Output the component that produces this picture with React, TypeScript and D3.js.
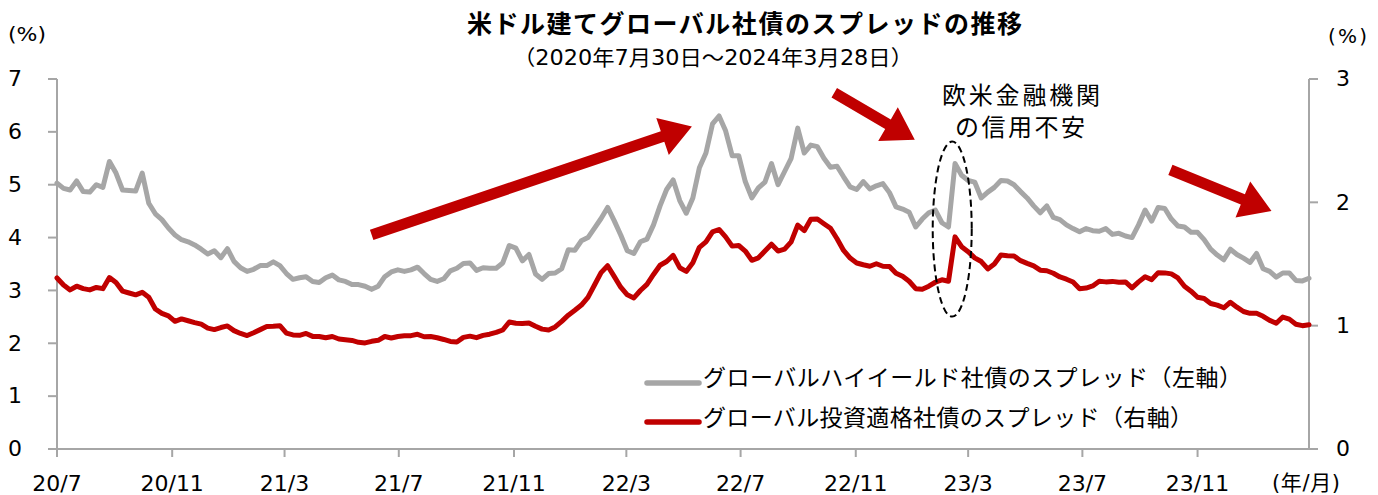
import React from 'react';
import * as d3 from 'd3';

// ---- data (weekly, Thursdays from 2020-07-30 to 2024-03-28) ----
const START = new Date(2020, 6, 30);
const END = new Date(2024, 2, 28);

const hySpread = [
  5.03, 4.93, 4.90, 5.07, 4.87, 4.86, 5.00, 4.95, 5.44, 5.22,
  4.90, 4.89, 4.88, 5.22, 4.65, 4.45, 4.34, 4.18, 4.05, 3.96,
  3.92, 3.86, 3.78, 3.69, 3.75, 3.62, 3.79, 3.55, 3.43, 3.36,
  3.40, 3.47, 3.47, 3.54, 3.47, 3.32, 3.21, 3.24, 3.26, 3.17,
  3.15, 3.24, 3.29, 3.20, 3.17, 3.11, 3.11, 3.08, 3.02, 3.08,
  3.26, 3.35, 3.39, 3.36, 3.39, 3.44, 3.32, 3.21, 3.17, 3.22,
  3.37, 3.42, 3.51, 3.52, 3.38, 3.43, 3.42, 3.42, 3.52, 3.85,
  3.80, 3.56, 3.68, 3.31, 3.21, 3.32, 3.33, 3.41, 3.77, 3.76,
  3.94, 4.00, 4.18, 4.36, 4.57, 4.32, 4.05, 3.75, 3.70, 3.92,
  3.97, 4.24, 4.60, 4.91, 5.09, 4.70, 4.46, 4.75, 5.32, 5.60,
  6.15, 6.30, 6.02, 5.55, 5.55, 5.06, 4.75, 4.94, 5.05, 5.40,
  5.00, 5.25, 5.50, 6.07, 5.60, 5.75, 5.72, 5.50, 5.33, 5.35,
  5.15, 4.96, 4.91, 5.06, 4.92, 4.98, 5.02, 4.85, 4.58, 4.54,
  4.48, 4.20, 4.35, 4.47, 4.52, 4.28, 4.20, 5.40, 5.18, 5.08,
  5.05, 4.75, 4.86, 4.95, 5.08, 5.07, 5.00, 4.87, 4.75, 4.60,
  4.47, 4.60, 4.38, 4.34, 4.24, 4.17, 4.11, 4.17, 4.13, 4.12,
  4.17, 4.06, 4.08, 4.03, 4.00, 4.24, 4.52, 4.31, 4.57, 4.55,
  4.35, 4.22, 4.20, 4.10, 4.10, 3.96, 3.78, 3.67, 3.58, 3.78,
  3.68, 3.61, 3.53, 3.70, 3.41, 3.36, 3.25, 3.33, 3.33, 3.19,
  3.18, 3.23,
];

const igSpread = [
  1.387, 1.33, 1.29, 1.32, 1.30, 1.29, 1.31, 1.30, 1.39, 1.35,
  1.28, 1.265, 1.25, 1.27, 1.23, 1.135, 1.10, 1.08, 1.035, 1.055,
  1.04, 1.025, 1.012, 0.98, 0.968, 0.985, 0.998, 0.96, 0.937, 0.92,
  0.943, 0.968, 0.994, 0.995, 1.0, 0.94, 0.925, 0.922, 0.937, 0.913,
  0.912, 0.902, 0.912, 0.892, 0.886, 0.88, 0.865, 0.86, 0.873, 0.881,
  0.912, 0.90, 0.912, 0.918, 0.919, 0.93, 0.91, 0.912, 0.902, 0.888,
  0.872, 0.868, 0.905, 0.915, 0.903, 0.921, 0.931, 0.945, 0.965, 1.03,
  1.02, 1.018, 1.022, 0.995, 0.972, 0.965, 0.99, 1.035, 1.085, 1.125,
  1.167, 1.23, 1.33, 1.43, 1.486, 1.40, 1.312, 1.25, 1.225, 1.285,
  1.335, 1.415, 1.49, 1.52, 1.57, 1.47, 1.44, 1.51, 1.635, 1.68,
  1.76, 1.78, 1.72, 1.645, 1.65, 1.605, 1.53, 1.55, 1.605, 1.66,
  1.605, 1.62, 1.68, 1.815, 1.77, 1.862, 1.865, 1.827, 1.79, 1.705,
  1.61, 1.548, 1.508, 1.494, 1.482, 1.502, 1.482, 1.48, 1.425, 1.40,
  1.36, 1.30, 1.295, 1.32, 1.352, 1.372, 1.36, 1.72, 1.64, 1.60,
  1.55, 1.52, 1.46, 1.50, 1.573, 1.567, 1.565, 1.527, 1.505, 1.485,
  1.45, 1.445, 1.425, 1.395, 1.377, 1.354, 1.30, 1.305, 1.322, 1.36,
  1.355, 1.359, 1.352, 1.355, 1.307, 1.355, 1.396, 1.373, 1.43, 1.428,
  1.42, 1.387, 1.32, 1.28, 1.23, 1.22, 1.18, 1.167, 1.145, 1.19,
  1.15, 1.115, 1.10, 1.10, 1.076, 1.043, 1.02, 1.07, 1.053, 1.012,
  1.00, 1.008,
];

const leftTicks = [0, 1, 2, 3, 4, 5, 6, 7];
const rightTicks = [0, 1, 2, 3];
const xTickLabels = ['20/7', '20/11', '21/3', '21/7', '21/11', '22/3', '22/7', '22/11', '23/3', '23/7', '23/11'];

const TITLE = '米ドル建てグローバル社債のスプレッドの推移';
const SUBTITLE = '（2020年7月30日～2024年3月28日）';
const LEGEND_HY = 'グローバルハイイールド社債のスプレッド（左軸）';
const LEGEND_IG = 'グローバル投資適格社債のスプレッド（右軸）';
const NOTE1 = '欧米金融機関';
const NOTE2 = 'の信用不安';

// annotation anchors in data space (date, left-axis value)
const arrows = [
  { from: ['2021-07-01', 4.05], to: ['2022-06-08', 6.10] },
  { from: ['2022-11-07', 6.74], to: ['2023-02-01', 5.85] },
  { from: ['2023-11-01', 5.28], to: ['2024-02-17', 4.50] },
];
const ellipseAnchor = ['2023-03-13', 4.16];

const W = 1378;
const H = 495;
const LEFT = 57;
const RIGHT = 1309;
const TOP = 79;
const BOTTOM = 449;

const GRAY = '#a6a6a6';
const RED = '#c00000';
const JP = "'Noto Sans CJK JP', 'Noto Sans', sans-serif";
const NUM = "'DejaVu Sans', 'Noto Sans CJK JP', sans-serif";

const parse = d3.timeParse('%Y-%m-%d');

function arrowPath(x0: number, y0: number, x1: number, y1: number, sw: number, hl: number, hw: number) {
  const dx = x1 - x0, dy = y1 - y0;
  const len = Math.hypot(dx, dy);
  const ux = dx / len, uy = dy / len;
  const nx = -uy, ny = ux;
  const bx = x1 - ux * hl, by = y1 - uy * hl;
  const pts = [
    [x0 + nx * sw / 2, y0 + ny * sw / 2],
    [bx + nx * sw / 2, by + ny * sw / 2],
    [bx + nx * hw / 2, by + ny * hw / 2],
    [x1, y1],
    [bx - nx * hw / 2, by - ny * hw / 2],
    [bx - nx * sw / 2, by - ny * sw / 2],
    [x0 - nx * sw / 2, y0 - ny * sw / 2],
  ];
  return 'M' + pts.map(p => p[0].toFixed(1) + ',' + p[1].toFixed(1)).join('L') + 'Z';
}

export default function App() {
  const dates = d3.range(hySpread.length).map(i => d3.timeDay.offset(START, 7 * i));
  const x = d3.scaleTime().domain([START, END]).range([LEFT, RIGHT]);
  const yL = d3.scaleLinear().domain([0, 7]).range([BOTTOM, TOP]);
  const yR = d3.scaleLinear().domain([0, 3]).range([BOTTOM, TOP]);
  const xTicks = xTickLabels.map((_, i) => d3.timeMonth.offset(START, 4 * i));

  const lineHY = d3.line<number>().x((_, i) => x(dates[i])).y(d => yL(d));
  const lineIG = d3.line<number>().x((_, i) => x(dates[i])).y(d => yR(d));

  const ex = x(parse(ellipseAnchor[0] as string)!);
  const ey = yL(ellipseAnchor[1] as number);

  return (
    <svg width={W} height={H} style={{ position: 'absolute', left: 0, top: 0, background: '#fff' }}>
      <rect x={0} y={0} width={W} height={H} fill="#fff" />
      {/* title */}
      <text x={467} y={33} fontFamily={JP} fontWeight="bold" fontSize={25} fill="#000"
        textLength={555} lengthAdjust="spacing">{TITLE}</text>
      <text x={513} y={65} fontFamily={NUM} fontSize={21} fill="#000"
        textLength={400} lengthAdjust="spacingAndGlyphs">{SUBTITLE}</text>

      {/* unit labels */}
      <text x={8} y={41} fontFamily={NUM} fontSize={20} fill="#000" textLength={38} lengthAdjust="spacingAndGlyphs">(%)</text>
      <text x={1328} y={43} fontFamily={NUM} fontSize={20} fill="#000" textLength={39} lengthAdjust="spacing">(%)</text>

      {/* axes */}
      <g stroke={GRAY} strokeWidth={2} fill="none">
        <line x1={LEFT} y1={TOP} x2={LEFT} y2={BOTTOM} />
        <line x1={RIGHT} y1={TOP} x2={RIGHT} y2={BOTTOM} />
        <line x1={LEFT} y1={BOTTOM} x2={RIGHT} y2={BOTTOM} />
        {leftTicks.map(t => (
          <line key={'lt' + t} x1={LEFT - 9} x2={LEFT} y1={yL(t)} y2={yL(t)} />
        ))}
        {rightTicks.map(t => (
          <line key={'rt' + t} x1={RIGHT} x2={RIGHT + 9} y1={yR(t)} y2={yR(t)} />
        ))}
        {xTicks.map((d, i) => (
          <line key={'xt' + i} x1={x(d)} x2={x(d)} y1={BOTTOM} y2={BOTTOM + 8} />
        ))}
      </g>
      <g fontFamily={NUM} fontSize={22} fill="#000">
        {leftTicks.map(t => (
          <text key={'ll' + t} x={22} y={yL(t)} dy="0.33em" textAnchor="end">{t}</text>
        ))}
        {rightTicks.map(t => (
          <text key={'rl' + t} x={1336} y={yR(t)} dy="0.33em" textAnchor="start">{t}</text>
        ))}
        {xTicks.map((d, i) => (
          <text key={'xl' + i} x={x(d)} y={491} textAnchor="middle">{xTickLabels[i]}</text>
        ))}
      </g>
      <text x={1272} y={490} fontFamily={NUM} fontSize={21} fill="#000" textLength={68} lengthAdjust="spacing">(年/月)</text>

      {/* series */}
      <path d={lineHY(hySpread) || ''} fill="none" stroke={GRAY} strokeWidth={5} strokeLinejoin="round" strokeLinecap="round" />
      <path d={lineIG(igSpread) || ''} fill="none" stroke={RED} strokeWidth={5} strokeLinejoin="round" strokeLinecap="round" />

      {/* arrows */}
      {arrows.map((a, i) => {
        const x0 = x(parse(a.from[0] as string)!);
        const y0 = yL(a.from[1] as number);
        const x1 = x(parse(a.to[0] as string)!);
        const y1 = yL(a.to[1] as number);
        return <path key={'ar' + i} d={arrowPath(x0, y0, x1, y1, 11, 31, 39)} fill={RED} />;
      })}

      {/* ellipse annotation */}
      <ellipse cx={ex} cy={ey} rx={19.5} ry={87.5} fill="none" stroke="#000" strokeWidth={2} strokeDasharray="7,4" />
      <text x={1021} y={104} fontFamily={JP} fontSize={24} fill="#000" textAnchor="middle"
        textLength={158} lengthAdjust="spacing">{NOTE1}</text>
      <text x={1020} y={136} fontFamily={JP} fontSize={24} fill="#000" textAnchor="middle"
        textLength={130} lengthAdjust="spacing">{NOTE2}</text>

      {/* legend */}
      <line x1={647} x2={699} y1={383} y2={383} stroke={GRAY} strokeWidth={5.5} strokeLinecap="round" />
      <text x={703} y={386} fontFamily={JP} fontSize={23} fill="#000" textLength={539} lengthAdjust="spacing">{LEGEND_HY}</text>
      <line x1={647} x2={699} y1={422} y2={422} stroke={RED} strokeWidth={5.5} strokeLinecap="round" />
      <text x={703} y={426} fontFamily={JP} fontSize={23} fill="#000" textLength={490} lengthAdjust="spacing">{LEGEND_IG}</text>
    </svg>
  );
}
